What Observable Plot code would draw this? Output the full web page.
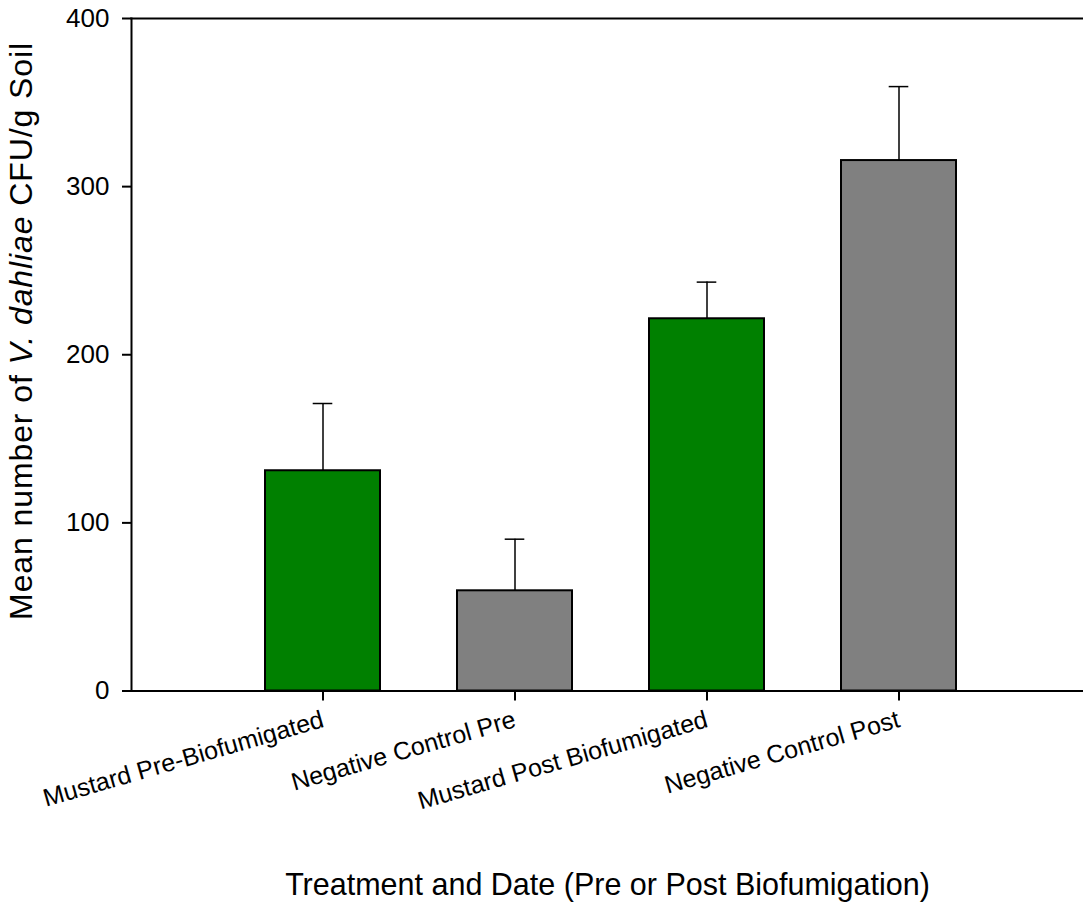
<!DOCTYPE html>
<html><head><meta charset="utf-8">
<script src="https://cdn.jsdelivr.net/npm/d3@7"></script>
<script src="https://cdn.jsdelivr.net/npm/@observablehq/plot@0.6"></script>
<style>html,body{margin:0;padding:0;background:#fff} svg{display:block}</style>
</head><body><div id="chart"></div>
<script>
const categories = ["Mustard Pre-Biofumigated", "Negative Control Pre", "Mustard Post Biofumigated", "Negative Control Post"];
const groups = ["Mustard", "Control", "Mustard", "Control"];
const means = [131, 59.6, 221.4, 315.5];
const errors = [40, 30.7, 21.8, 44];
const yTicks = [0, 100, 200, 300, 400];
const groupNames = ["Mustard", "Control"];
const groupColors = ["#008000", "#808080"];
const xTitle = "Treatment and Date (Pre or Post Biofumigation)";
const yTitleParts = [["Mean number of ", "normal"], ["V. dahliae", "italic"], [" CFU/g Soil", "normal"]];

const data = categories.map((c, i) => ({cat: c, group: groups[i], mean: means[i], hi: means[i] + errors[i]}));

const font = "'Liberation Sans', Arial, sans-serif";
const chart = Plot.plot({
  width: 1083, height: 911,
  marginLeft: 131, marginRight: 0, marginTop: 18, marginBottom: 220.5,
  style: {fontFamily: font, fontSize: "26px", color: "#000", background: "#fff", overflow: "visible"},
  x: {domain: categories, paddingInner: 0.4, paddingOuter: 0.678, align: 0.515, axis: null},
  y: {domain: [0, 400], axis: null},
  color: {domain: groupNames, range: groupColors},
  marks: [
    Plot.ruleX(data, {x: "cat", y1: "mean", y2: "hi", stroke: "#000", strokeWidth: 1.5}),
    Plot.tickY(data, {x: "cat", y: "hi", stroke: "#000", strokeWidth: 1.5, insetLeft: 47.7, insetRight: 47.7}),
    Plot.barY(data, {x: "cat", y: "mean", fill: "group", stroke: "#000", strokeWidth: 2}),
    Plot.axisY({ticks: yTicks, tickSize: 9, tickPadding: 13, strokeWidth: 2, fontSize: 26, label: null}),
    Plot.axisX({tickSize: 10, tickPadding: 18, tickRotate: -16, strokeWidth: 2, fontSize: 25, label: null}),
    Plot.frame({anchor: "top", strokeWidth: 2}),
    Plot.frame({anchor: "left", strokeWidth: 2}),
    Plot.frame({anchor: "bottom", strokeWidth: 2}),
    Plot.text([xTitle], {frameAnchor: "bottom", dy: 203.5, lineAnchor: "bottom", fontSize: 30.5})
  ]
});
document.getElementById("chart").appendChild(chart);

const svg = d3.select(chart);
const yt = svg.append("text")
  .attr("transform", "translate(32,331) rotate(-90)")
  .attr("text-anchor", "middle")
  .attr("font-family", font)
  .attr("font-size", 32)
  .attr("letter-spacing", "0.9px")
  .attr("fill", "#000");
yTitleParts.forEach(([t, s]) => yt.append("tspan").attr("font-style", s).text(t));
</script>
</body></html>
